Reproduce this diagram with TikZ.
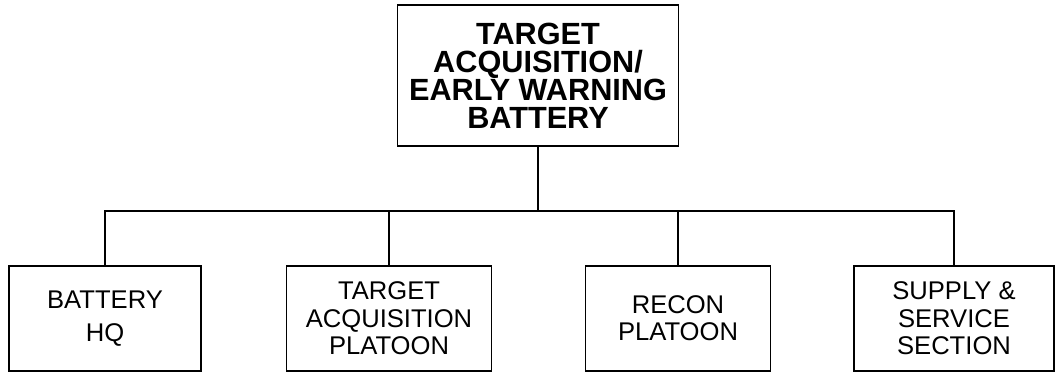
\documentclass[tikz,border=0pt]{standalone}
\usepackage{fontspec}
\setmainfont{Liberation Sans}
\usepackage{tikz}
\usetikzlibrary{positioning}

\begin{document}
\begin{tikzpicture}[x=0.75pt,y=-0.75pt]
\tikzstyle{every node}+=[inner sep=0pt]
\tikzstyle{topbox}=[draw,line width=1.2pt,align=center,minimum width=211pt,minimum height=106pt,font=\fontsize{23}{21}\selectfont\bfseries]
\tikzstyle{unitbox}=[draw,line width=1.2pt,align=center,minimum height=79pt,font=\fontsize{19.2}{20.5}\selectfont]
\useasboundingbox (0,0) rectangle (1057,373);
\node [topbox] (bty) at (538,75.5) {TARGET\\ACQUISITION/\\EARLY WARNING\\BATTERY};
\node [unitbox,minimum width=144pt] (hq) at (105,318.5) {BATTERY\\[4pt]HQ};
\node [unitbox,minimum width=154pt] (tap) at (389,318.5) {TARGET\\ACQUISITION\\PLATOON};
\node [unitbox,minimum width=139pt] (rec) at (678,318.5) {RECON\\PLATOON};
\node [unitbox,minimum width=150pt] (sup) at (954,318.5) {SUPPLY \&\\SERVICE\\SECTION};
\coordinate (bus) at (538,211);
\draw [line width=1.2pt] (bty.south) -- (bus);
\draw [line width=1.2pt] (hq.north) |- (bus) -| (sup.north);
\draw [line width=1.2pt] (tap.north) -- (tap.north |- bus);
\draw [line width=1.2pt] (rec.north) -- (rec.north |- bus);
\end{tikzpicture}
\end{document}
